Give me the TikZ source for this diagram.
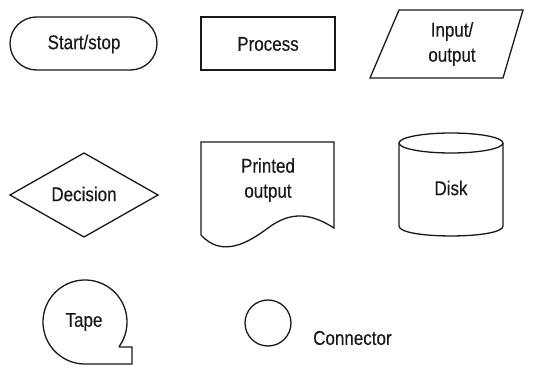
\documentclass[tikz,border=0pt]{standalone}
\usepackage{fontspec}
\setmainfont{Liberation Sans}[FakeStretch=0.85, FakeBold=0.3]
\tikzset{
	shape line/.style={line width=1.3pt, black!90},
	label text/.style={font=\fontsize{20}{25}\selectfont, text=black!90, align=center, inner sep=0pt}
}
\begin{document}
\begin{tikzpicture}[x=1pt, y=-1pt]
	\useasboundingbox (0,0) rectangle (538,369);
	% first row
	\draw[shape line, rounded corners=26.5pt] (10,17) rectangle (157,70);
	\node[label text] (startstop) at (84,44) {Start/stop};
	\draw[shape line] (201,17) rectangle (335,70);
	\node[label text] (process) at (268,44) {Process};
	\coordinate (IA) at (399,10);
	\coordinate (IB) at (523,10);
	\coordinate (IC) at (503,78);
	\coordinate (ID) at (370,78);
	\draw[shape line] (IA) -- (IB) -- (IC) -- (ID) -- cycle;
	\node[label text] (inout) at (452,44) {Input/\\output};
	% second row
	\coordinate (DL) at (10,195);
	\coordinate (DT) at (84,153);
	\coordinate (DR) at (158,195);
	\coordinate (DB) at (84,237);
	\draw[shape line] (DL) -- (DT) -- (DR) -- (DB) -- cycle;
	\node[label text] (decision) at (84,194) {Decision};
	\draw[shape line] (201,235) -- (201,142) -- (334,142) -- (334,228)
		.. controls (312,214) and (292,210) .. (268,228)
		.. controls (248,243) and (222,258) .. (201,235);
	\node[label text] (printed) at (268,180) {Printed\\output};
	\draw[shape line] (451,143) ellipse [x radius=52, y radius=10];
	\draw[shape line] (399,143) -- (399,226)
		.. controls (399,239.3) and (503,239.3) .. (503,226) -- (503,143);
	\node[label text] (disk) at (451,188) {Disk};
	% third row
	\draw[shape line, line join=miter] plot[domain=36:-270, samples=120] ({85+42*cos(\x)},{322+42*sin(\x)})
		-- (132,364) -- (132,347) -- (119,347);
	\node[label text] (tape) at (84,322) {Tape};
	\draw[shape line] (268,323) circle [radius=23];
	\node[label text, anchor=west] (connector) at (313,338) {Connector};
\end{tikzpicture}
\end{document}
